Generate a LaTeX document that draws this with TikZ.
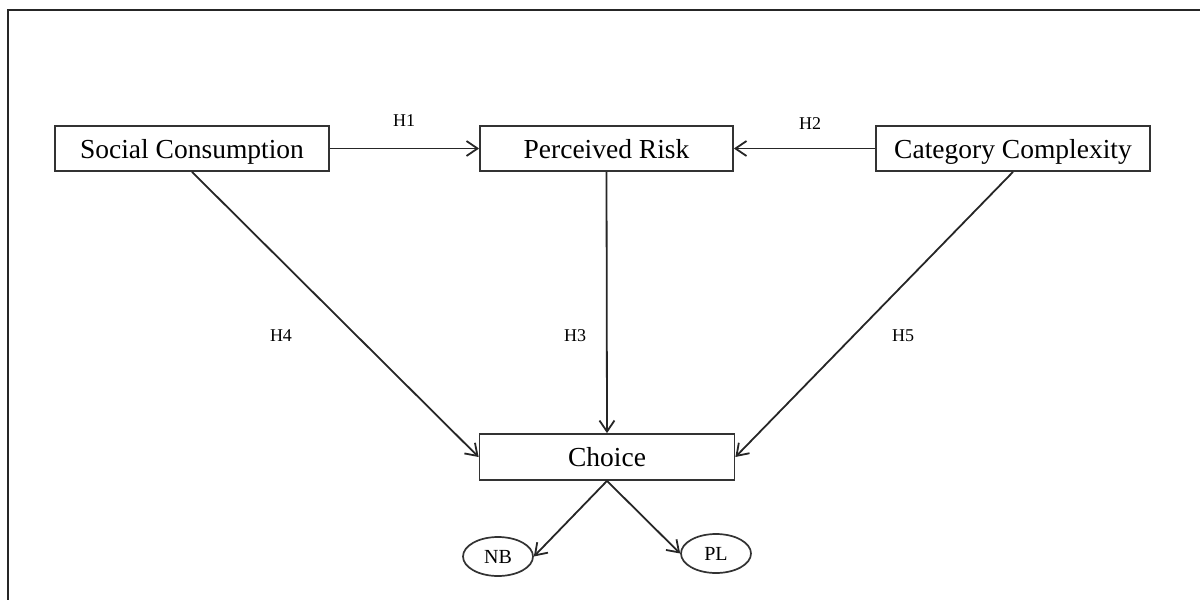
\documentclass[tikz,border=0pt]{standalone}
\usepackage{fontspec}
\setmainfont{Liberation Serif}
\usetikzlibrary{arrows.meta,shapes.geometric}
\begin{document}
\begin{tikzpicture}[x=1pt,y=-1pt,
  box/.style={draw=black!80,line width=1.8pt,rectangle,minimum height=45pt,inner sep=0pt,text height=22pt,text depth=2.5pt,font=\fontsize{27.5}{31}\selectfont},
  oval/.style={draw=black!80,line width=1.7pt,ellipse,minimum width=70pt,minimum height=39pt,inner sep=0pt,font=\fontsize{20}{24}\selectfont},
  conn/.style={line width=1.8pt,draw=black!85,-{Straight Barb[length=11pt,width=15pt]}},
  hlab/.style={font=\fontsize{18}{22}\selectfont}]
\useasboundingbox (0,0) rectangle (1200,600);
\draw[line width=2.8pt,black!85] (8,600) -- (8,10) -- (1200,10);
\node[box,minimum width=274pt] (sc) at (192,148.5) {Social Consumption};
\node[box,minimum width=253pt] (pr) at (606.5,148.5) {Perceived Risk};
\node[box,minimum width=274pt] (cc) at (1013,148.5) {Category Complexity};
\node[box,minimum width=255pt,minimum height=46pt] (ch) at (607,457) {Choice};
\node[oval] (nb) at (498,556.5) {NB};
\node[oval] (pl) at (716,553.5) {PL};
\draw[conn] (sc.east) -- (pr.west);
\draw[conn] (cc.west) -- (pr.east);
\draw[conn] (pr.south) -- (ch.north);
\draw[conn] (sc.south) -- (ch.west);
\draw[conn] (cc.south) -- (ch.east);
\draw[conn] (ch.south) -- (nb.east);
\draw[conn] (ch.south) -- (pl.west);
\node[hlab] (h1) at (404,121) {H1};
\node[hlab] (h2) at (810,124) {H2};
\node[hlab] (h3) at (575,336) {H3};
\node[hlab] (h4) at (281,336) {H4};
\node[hlab] (h5) at (903,336) {H5};
\end{tikzpicture}
\end{document}
